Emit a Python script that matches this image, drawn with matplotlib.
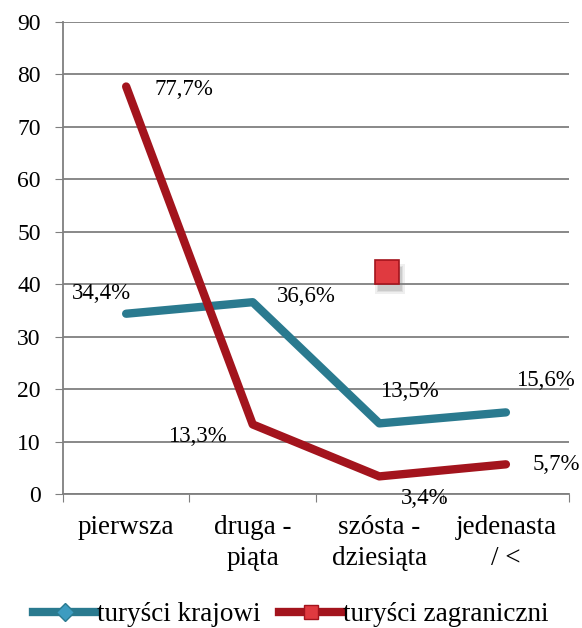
import matplotlib.pyplot as plt
from matplotlib.lines import Line2D

# data
categories = ['pierwsza', 'druga -\npiąta', 'szósta -\ndziesiąta', 'jedenasta\n/ <']
krajowi = [34.4, 36.6, 13.5, 15.6]
zagraniczni = [77.7, 13.3, 3.4, 5.7]
krajowi_labels = ['34,4%', '36,6%', '13,5%', '15,6%']
zagraniczni_labels = ['77,7%', '13,3%', '3,4%', '5,7%']
stray_marker = (2.06, 42.4)

teal = '#2a7a8f'
red = '#a3141d'

plt.rcParams['font.family'] = ['Liberation Serif', 'DejaVu Serif']

fig = plt.figure(figsize=(5.82, 6.28), dpi=100)
ax = fig.add_axes([0.108, 0.213, 0.87, 0.752])

x = list(range(len(categories)))
ax.plot(x, krajowi, color=teal, lw=6, solid_capstyle='round', solid_joinstyle='round', zorder=3)
ax.plot(x, zagraniczni, color=red, lw=6, solid_capstyle='round', solid_joinstyle='round', zorder=3)

# stray marker with soft shadow
for k, a in [(0, 0.12), (1, 0.15), (2, 0.2)]:
    ax.plot([stray_marker[0] + 0.025], [stray_marker[1] - 1.4], marker='s', ms=21 - 2 * k,
            color='gray', alpha=a, mew=0, linestyle='none', zorder=4)
ax.plot([stray_marker[0]], [stray_marker[1]], marker='s', ms=17, color='#e03a40',
        mec=red, mew=1.2, linestyle='none', zorder=5)

# data labels (offsets in pixels)
k_off = [(-25, 20), (54, 6), (30, 32), (40, 32)]
z_off = [(58, -3), (-55, -12), (45, -22), (50, 0)]
for i in x:
    ax.annotate(krajowi_labels[i], (i, krajowi[i]), xytext=k_off[i], textcoords='offset pixels',
                ha='center', va='center', fontsize=16.5)
    ax.annotate(zagraniczni_labels[i], (i, zagraniczni[i]), xytext=z_off[i], textcoords='offset pixels',
                ha='center', va='center', fontsize=16.5)

ax.set_xlim(-0.5, 3.5)
ax.set_ylim(0, 90)
ax.set_yticks(range(0, 91, 10))
ax.tick_params(axis='y', labelsize=17, length=6, color='#7f7f7f', pad=10)
ax.set_xticks([-0.5, 0.5, 1.5, 2.5, 3.5])
ax.set_xticklabels([])
ax.set_xticks(x, minor=True)
ax.set_xticklabels(categories, minor=True, fontsize=19.5, linespacing=1.3)
ax.tick_params(axis='x', which='major', length=6, color='#7f7f7f', direction='out')
ax.tick_params(axis='x', which='minor', length=0, pad=15)

ax.grid(axis='y', color='#7f7f7f', lw=1.3)
ax.set_axisbelow(True)
for s in ['top', 'right']:
    ax.spines[s].set_visible(False)
ax.spines['left'].set_color('#7f7f7f')
ax.spines['bottom'].set_color('#7f7f7f')
ax.spines['left'].set_linewidth(1.3)
ax.spines['bottom'].set_linewidth(1.3)

handles = [Line2D([], [], color=teal, lw=6, marker='D', ms=9, mfc='#3d9cc0', mec=teal),
           Line2D([], [], color=red, lw=6, marker='s', ms=10, mfc='#e03a40', mec=red)]
fig.legend(handles, ['turyści krajowi', 'turyści zagraniczni'], loc='lower center',
           bbox_to_anchor=(0.5, -0.038), ncol=2, frameon=False, fontsize=19.5,
           handlelength=2.3, handletextpad=0.05, columnspacing=0.7)

fig.savefig('out.png', dpi=100)
